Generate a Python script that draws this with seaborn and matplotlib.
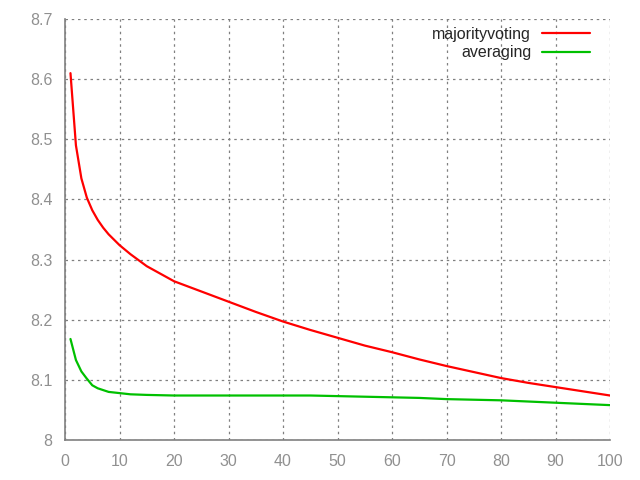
import pandas as pd
import matplotlib
matplotlib.use("Agg")
import matplotlib.pyplot as plt
import seaborn as sns

# values
x_vals = [1, 2, 3, 4, 5, 6, 7, 8, 9, 10, 12, 15, 20, 25, 30, 35, 40, 45, 50,
          55, 60, 65, 70, 75, 80, 85, 90, 95, 100]
majority = [8.610, 8.490, 8.435, 8.403, 8.382, 8.366, 8.353, 8.342, 8.333, 8.324,
            8.309, 8.289, 8.264, 8.247, 8.230, 8.213, 8.197, 8.183, 8.170, 8.157,
            8.146, 8.134, 8.123, 8.113, 8.103, 8.095, 8.088, 8.081, 8.074]
averaging = [8.168, 8.133, 8.114, 8.102, 8.091, 8.086, 8.083, 8.080, 8.079, 8.078,
             8.076, 8.075, 8.074, 8.074, 8.074, 8.074, 8.074, 8.074, 8.073, 8.072,
             8.071, 8.070, 8.068, 8.067, 8.066, 8.064, 8.062, 8.060, 8.058]
series_names = ["majorityvoting", "averaging"]

df = pd.concat([
    pd.DataFrame({"x": x_vals, "y": majority, "series": series_names[0]}),
    pd.DataFrame({"x": x_vals, "y": averaging, "series": series_names[1]}),
])

sns.set_style("white")
plt.rcParams["font.family"] = ["Liberation Sans", "DejaVu Sans"]

fig = plt.figure(figsize=(6.4, 4.8), dpi=100)
ax = fig.add_axes([0.1016, 0.0833, 0.8516, 0.8771])

sns.lineplot(data=df, x="x", y="y", hue="series",
             palette={"majorityvoting": "#ff0000", "averaging": "#00c000"},
             linewidth=1.6, ax=ax)

ax.set_xlim(0, 100)
ax.set_ylim(8, 8.7)
ax.set_xticks(range(0, 101, 10))
ax.set_yticks([8, 8.1, 8.2, 8.3, 8.4, 8.5, 8.6, 8.7])
ax.set_yticklabels(["8", "8.1", "8.2", "8.3", "8.4", "8.5", "8.6", "8.7"])
ax.set_xlabel("")
ax.set_ylabel("")

ax.grid(True, color="#808080", linestyle=(0, (2, 3)), linewidth=0.9)
for side in ["top", "right"]:
    ax.spines[side].set_visible(False)
for side in ["left", "bottom"]:
    ax.spines[side].set_color("#808080")
    ax.spines[side].set_linewidth(1.2)
ax.tick_params(axis="both", length=0, labelsize=11.5, colors="#909090")
ax.tick_params(axis="x", pad=10)
ax.tick_params(axis="y", pad=9)

leg = ax.legend(loc="upper right", frameon=False, markerfirst=False,
                fontsize=11.5, handlelength=3.0, handletextpad=0.7,
                labelspacing=0.2, bbox_to_anchor=(0.99, 1.015))
for line in leg.get_lines():
    line.set_linewidth(1.6)

fig.savefig("out.png", dpi=100)
